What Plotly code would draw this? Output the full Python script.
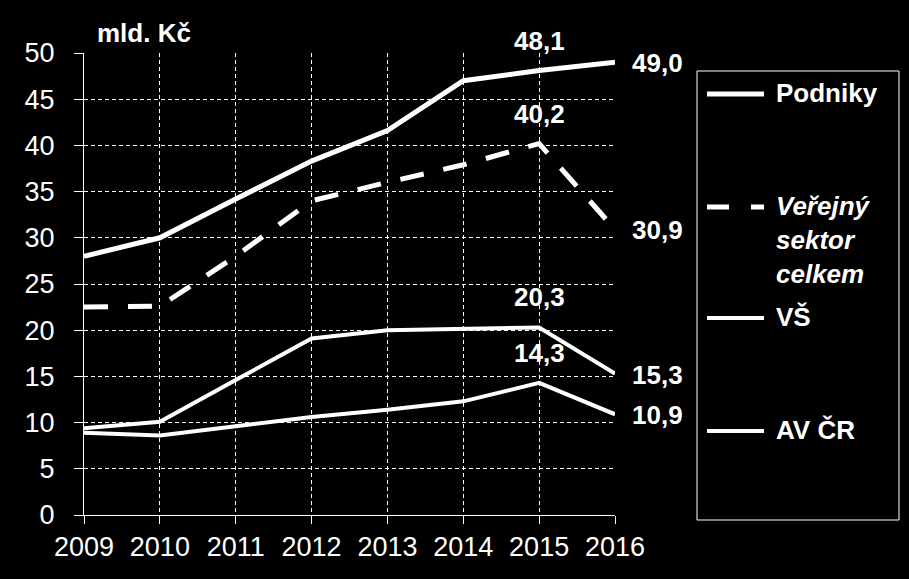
import plotly.graph_objects as go

years = [2009, 2010, 2011, 2012, 2013, 2014, 2015, 2016]
podniky = [28.0, 30.0, 34.2, 38.3, 41.6, 47.0, 48.1, 49.0]
verejny = [22.5, 22.6, 28.0, 34.0, 36.0, 37.9, 40.2, 30.9]
vs = [9.4, 10.1, 14.6, 19.1, 20.0, 20.1, 20.3, 15.3]
avcr = [8.9, 8.6, 9.6, 10.6, 11.4, 12.3, 14.3, 10.9]

series_names = ["Podniky", "Veřejný<br>sektor<br>celkem", "VŠ", "AV ČR"]
unit_label = "mld. Kč"

W, H = 909, 579
L, R, T, B = 84, 615, 53, 515
FONT = "Liberation Sans, Arial, sans-serif"
FS = 26
TFS = 27

def px_x(p):
    return (p - L) / (R - L)

def px_y(p):
    return (B - p) / (B - T)

fig = go.Figure()
fig.add_scatter(x=years, y=podniky, mode="lines", name="Podniky",
                line=dict(color="white", width=5), showlegend=False)
fig.add_scatter(x=years, y=verejny, mode="lines", name="Veřejný sektor celkem",
                line=dict(color="white", width=5, dash="24px,20px"), showlegend=False)
fig.add_scatter(x=years, y=vs, mode="lines", name="VŠ",
                line=dict(color="white", width=4), showlegend=False)
fig.add_scatter(x=years, y=avcr, mode="lines", name="AV ČR",
                line=dict(color="white", width=4), showlegend=False)

def fmt(v):
    return f"{v:.1f}".replace(".", ",")

bold = dict(family=FONT, size=FS, color="white")
# labels at 2015 (peak) above the points
for s in [podniky, verejny, vs, avcr]:
    fig.add_annotation(x=years[6], y=s[6], text=f"<b>{fmt(s[6])}</b>", showarrow=False,
                       xanchor="center", yanchor="middle", yshift=30, font=bold)
# labels at 2016 on the right
for s in [podniky, verejny, vs, avcr]:
    fig.add_annotation(x=years[7], y=s[7], text=f"<b>{fmt(s[7])}</b>", showarrow=False,
                       xanchor="left", yanchor="middle", xshift=15, yshift=-1, font=bold)

fig.add_annotation(xref="paper", yref="paper", x=px_x(95), y=px_y(33),
                   text=f"<b>{unit_label}</b>", showarrow=False,
                   xanchor="left", yanchor="middle", font=bold)

# legend box
fig.add_shape(type="rect", xref="paper", yref="paper",
              x0=px_x(697), x1=px_x(899), y0=px_y(71), y1=px_y(520),
              line=dict(color="white", width=1), fillcolor="rgba(0,0,0,0)")
leg_y = [94, 207, 318, 431]
leg_dash = ["solid", "22px,22px", "solid", "solid"]
leg_w = [5, 5, 4, 4]
for name, yy, d, w in zip(series_names, leg_y, leg_dash, leg_w):
    fig.add_shape(type="line", xref="paper", yref="paper",
                  x0=px_x(707), x1=px_x(764), y0=px_y(yy), y1=px_y(yy),
                  line=dict(color="white", width=w, dash=d))
    txt = f"<b>{name}</b>"
    if "<br>" in name:
        txt = "<b><i>" + name + "</i></b>"
    fig.add_annotation(xref="paper", yref="paper", x=px_x(774), y=px_y(yy - 18),
                       text=txt, showarrow=False, xanchor="left", yanchor="top",
                       align="left", font=bold)

fig.update_layout(
    width=W, height=H,
    margin=dict(l=L, r=W - R, t=T, b=H - B),
    paper_bgcolor="black", plot_bgcolor="black",
    font=dict(family=FONT, size=TFS, color="white"),
    showlegend=False,
)
fig.update_xaxes(range=[2009, 2016], tickvals=years, ticktext=[str(y) for y in years],
                 showline=True, linecolor="white", linewidth=1,
                 ticks="outside", ticklen=8, tickcolor="white",
                 showgrid=True, gridcolor="white", gridwidth=1, griddash="4px,3px",
                 zeroline=False, tickfont=dict(family=FONT, size=TFS, color="white"))
fig.update_yaxes(range=[0, 50], dtick=5, tick0=0,
                 showline=True, linecolor="white", linewidth=1,
                 ticks="outside", ticklen=9, tickcolor="white",
                 showgrid=True, gridcolor="white", gridwidth=1, griddash="4px,3px",
                 zeroline=False, ticklabelstandoff=14,
                 tickfont=dict(family=FONT, size=TFS, color="white"))

fig.write_html("out.html")
